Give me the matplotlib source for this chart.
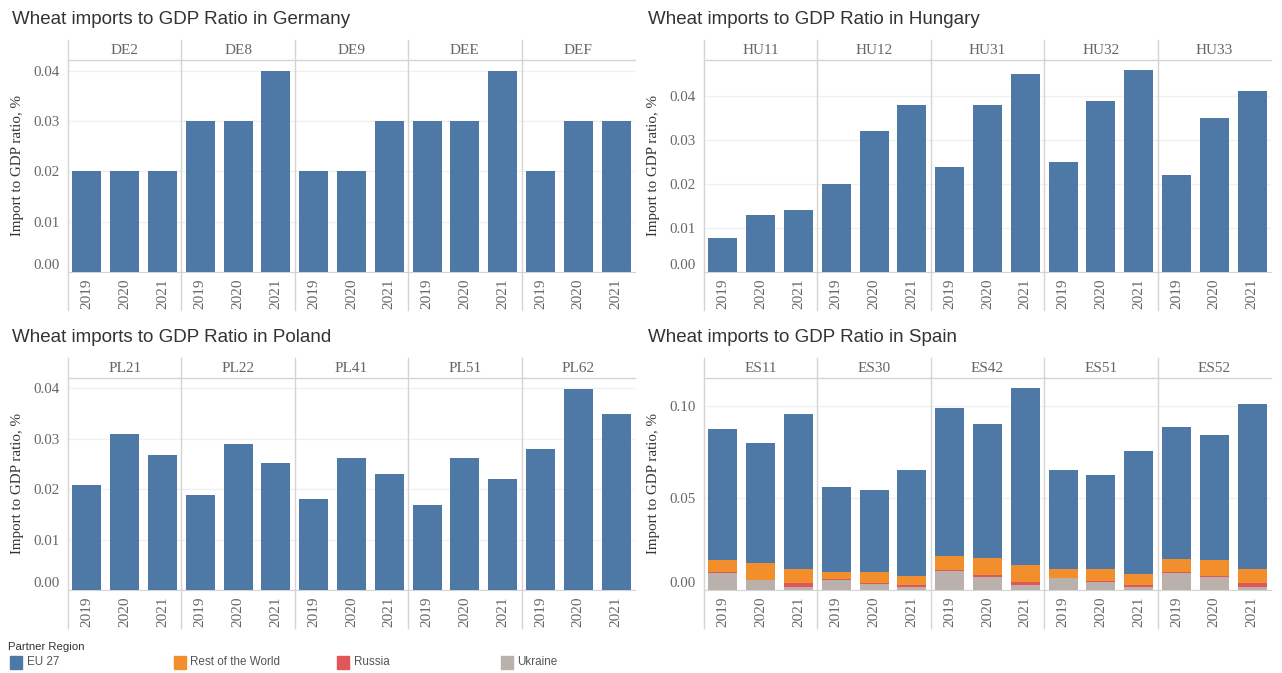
import numpy as np
import matplotlib.pyplot as plt
from matplotlib.patches import Rectangle

W, H = 1282, 673

YEARS = ['2019', '2020', '2021']
PARTNERS = ['EU 27', 'Rest of the World', 'Russia', 'Ukraine']
COLOURS = {'EU 27': '#4e79a7', 'Rest of the World': '#f28e2b',
           'Russia': '#e15759', 'Ukraine': '#bab0ac'}

DE_REGIONS = ['DE2', 'DE8', 'DE9', 'DEE', 'DEF']
DE_EU = [[0.02, 0.02, 0.02], [0.03, 0.03, 0.04], [0.02, 0.02, 0.03],
         [0.03, 0.03, 0.04], [0.02, 0.03, 0.03]]

HU_REGIONS = ['HU11', 'HU12', 'HU31', 'HU32', 'HU33']
HU_EU = [[0.0078, 0.0130, 0.0142], [0.0201, 0.0321, 0.0380], [0.0239, 0.0380, 0.0451],
         [0.0251, 0.0389, 0.0460], [0.0221, 0.0351, 0.0412]]

PL_REGIONS = ['PL21', 'PL22', 'PL41', 'PL51', 'PL62']
PL_EU = [[0.0209, 0.0310, 0.0268], [0.0189, 0.0290, 0.0251], [0.0180, 0.0261, 0.0229],
         [0.0168, 0.0261, 0.0219], [0.0280, 0.0399, 0.0349]]

ES_REGIONS = ['ES11', 'ES30', 'ES42', 'ES51', 'ES52']
ES_UKRAINE = [[0.0092, 0.0054, 0.0016], [0.0054, 0.0033, 0.0016], [0.0103, 0.0070, 0.0027],
              [0.0065, 0.0043, 0.0016], [0.0092, 0.0070, 0.0016]]
ES_RUSSIA = [[0.0005, 0.0, 0.0022], [0.0006, 0.0007, 0.0011], [0.0005, 0.0011, 0.0016],
             [0.0, 0.0006, 0.0011], [0.0005, 0.0006, 0.0022]]
ES_ROW = [[0.0064, 0.0092, 0.0076], [0.0038, 0.0058, 0.0049], [0.0076, 0.0092, 0.0094],
          [0.0049, 0.0065, 0.0060], [0.0071, 0.0086, 0.0076]]
ES_EU = [[0.0714, 0.0654, 0.0843], [0.0459, 0.0443, 0.0577], [0.0805, 0.0730, 0.0960],
         [0.0539, 0.0512, 0.0669], [0.0718, 0.0681, 0.0897]]

SERIF = 'Liberation Serif'
SANS = 'Liberation Sans'
LINE = '#d4d4d4'

fig = plt.figure(figsize=(W / 100, H / 100), dpi=100)


def px_axes(left, top, right, bottom):
    return fig.add_axes([left / W, 1 - bottom / H, (right - left) / W, (bottom - top) / H])


def draw_panel(title, regions, stacks, ymax, yticks, left, right, top):
    # top = y of header band top; header 20px, plot 212px, tick area 38px
    head_b = top + 20
    zero = head_b + 212
    tick_b = zero + 38
    ax = px_axes(left, head_b, right, zero)
    n = len(regions) * 3
    x = np.arange(n)
    bottom = np.zeros(n)
    for name, vals in stacks:
        v = np.array(vals).flatten()
        ax.bar(x, v, width=0.77, bottom=bottom, color=COLOURS[name], zorder=3)
        bottom += v
    ax.set_xlim(-0.5, n - 0.5)
    ax.set_ylim(0, ymax)
    ax.set_yticks(yticks)
    ax.set_yticklabels([f'{t:.2f}' for t in yticks], fontfamily=SERIF, fontsize=10.8, color='#666666')
    ax.get_yticklabels()[0].set_verticalalignment('bottom')
    ax.set_xticks(x)
    ax.set_xticklabels(YEARS * len(regions), rotation=90, fontfamily=SERIF, fontsize=11, color='#666666')
    ax.tick_params(length=0, pad=5)
    ax.tick_params(axis='y', pad=6)
    ax.grid(axis='y', color='#f0f0f0', lw=1, zorder=0)
    for s in ['top', 'right', 'left']:
        ax.spines[s].set_visible(False)
    ax.spines['bottom'].set_color(LINE)
    ax.set_ylabel('Import to GDP ratio, %', fontfamily=SERIF, fontsize=10.8, color='#333333', labelpad=7)

    # facet separators and header band
    y_top = (zero - top) / 212
    y_bot = -(tick_b - zero) / 212
    for k in range(len(regions)):
        ax.plot([3 * k - 0.5] * 2, [y_bot, y_top], color=LINE, lw=1,
                transform=ax.get_xaxis_transform(), clip_on=False)
        ax.text(3 * k + 1, (y_top + 1) / 2, regions[k], transform=ax.get_xaxis_transform(),
                ha='center', va='center', fontfamily=SERIF, fontsize=11, color='#666666')
    ax.plot([-0.5, n - 0.5], [1, 1], color=LINE, lw=1,
            transform=ax.get_xaxis_transform(), clip_on=False)
    fig.text((left - 56) / W, 1 - (top - 21) / H, title, fontfamily=SANS, fontsize=13.5,
             color='#333333', ha='left', va='center')


draw_panel('Wheat imports to GDP Ratio in Germany', DE_REGIONS, [('EU 27', DE_EU)],
           0.0421, [0.0, 0.01, 0.02, 0.03, 0.04], 68, 635, 40)
draw_panel('Wheat imports to GDP Ratio in Hungary', HU_REGIONS, [('EU 27', HU_EU)],
           0.0483, [0.0, 0.01, 0.02, 0.03, 0.04], 704, 1271, 40)
draw_panel('Wheat imports to GDP Ratio in Poland', PL_REGIONS, [('EU 27', PL_EU)],
           0.0420, [0.0, 0.01, 0.02, 0.03, 0.04], 68, 635, 358)
draw_panel('Wheat imports to GDP Ratio in Spain', ES_REGIONS,
           [('Ukraine', ES_UKRAINE), ('Russia', ES_RUSSIA), ('Rest of the World', ES_ROW), ('EU 27', ES_EU)],
           0.115, [0.0, 0.05, 0.10], 704, 1271, 358)

# legend
fig.text(8 / W, 1 - 647 / H, 'Partner Region', fontfamily=SANS, fontsize=8.2,
         color='#333333', ha='left', va='center')
for i, name in enumerate(PARTNERS):
    x0 = 10 + 163.5 * i
    fig.patches.append(Rectangle((x0 / W, 1 - 669 / H), 12 / W, 13 / H,
                                 transform=fig.transFigure, color=COLOURS[name]))
    fig.text((x0 + 17) / W, 1 - 662 / H, name, fontfamily=SANS, fontsize=8.4,
             color='#555555', ha='left', va='center')

plt.savefig('out.png', dpi=100)
